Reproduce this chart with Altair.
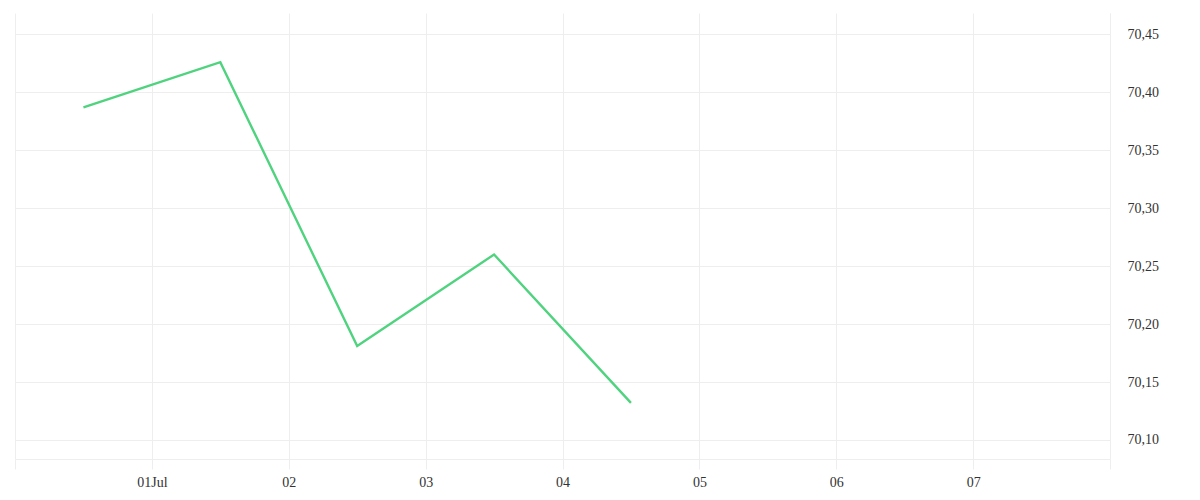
import altair as alt
import pandas as pd

# data
times = ["2025-06-30T12:00:00", "2025-07-01T12:00:00", "2025-07-02T12:00:00",
         "2025-07-03T12:00:00", "2025-07-04T12:00:00"]
values = [70.387, 70.426, 70.181, 70.260, 70.132]

y_ticks = [70.10, 70.15, 70.20, 70.25, 70.30, 70.35, 70.40, 70.45]
x_tick_days = [30, 1, 2, 3, 4, 5, 6, 7, 8]
x_tick_months = [6, 7, 7, 7, 7, 7, 7, 7, 7]

df = pd.DataFrame({"t": times, "v": values})

grid_color = "#eeeeee"
label_color = "#333333"
font = "Liberation Serif"

x_vals = [alt.DateTime(year=2025, month=m, date=d) for m, d in zip(x_tick_months, x_tick_days)]

chart = alt.Chart(df).mark_line(color="#4fd37f", strokeWidth=2.4).encode(
    x=alt.X(
        "t:T",
        title=None,
        scale=alt.Scale(domain=[x_vals[0], x_vals[-1]]),
        axis=alt.Axis(
            values=x_vals,
            labelExpr="month(datum.value)==6 && date(datum.value)==1 ? timeFormat(datum.value, '%d%b') : (month(datum.value)==6 && date(datum.value)<=7 ? timeFormat(datum.value, '%d') : '')",
            grid=True,
            gridColor=grid_color,
            domain=True,
            domainColor=grid_color,
            ticks=True,
            tickSize=10,
            tickColor=grid_color,
            labelPadding=6,
            labelFont=font,
            labelFontSize=14,
            labelColor=label_color,
            labelFlush=False,
            labelOverlap=False,
        ),
    ),
    y=alt.Y(
        "v:Q",
        title=None,
        scale=alt.Scale(domain=[70.0836, 70.4684], nice=False, zero=False),
        axis=alt.Axis(
            orient="right",
            values=y_ticks,
            labelExpr="replace(format(datum.value, '.2f'), '.', ',')",
            grid=True,
            gridColor=grid_color,
            domain=True,
            domainColor=grid_color,
            ticks=False,
            labelPadding=17,
            labelFont=font,
            labelFontSize=14,
            labelColor=label_color,
            labelFlush=False,
            labelOverlap=False,
        ),
    ),
).properties(
    width=1095,
    height=446,
    autosize=alt.AutoSizeParams(type="none"),
    padding={"left": 7, "top": 5, "right": 82, "bottom": 33},
).configure(background="white").configure_view(stroke=None)

chart.save("out.html", embed_options={"renderer": "svg", "actions": False})
